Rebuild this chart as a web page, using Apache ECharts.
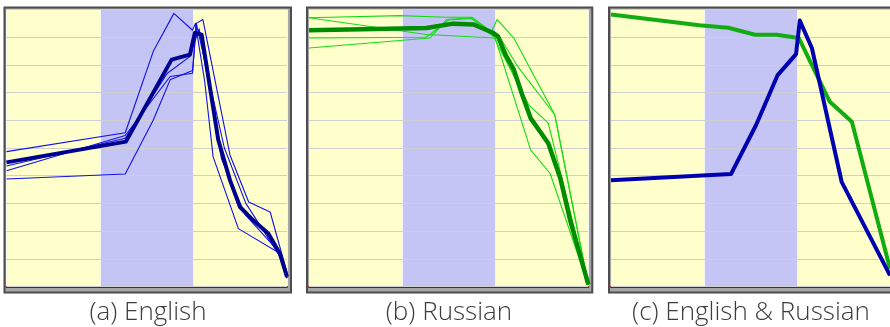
<!DOCTYPE html>
<html><head><meta charset="utf-8">
<script src="https://cdn.jsdelivr.net/npm/echarts@6/dist/echarts.min.js"></script>
<style>html,body{margin:0;padding:0;background:#fff}#c{width:890px;height:327px}</style>
</head><body><div id="c"></div>
<script>
// ---- data (x: 0..3 normalized position, y: 0..10) ----
const panelTitles = ['(a) English', '(b) Russian', '(c) English & Russian'];
const bandColors = ['#FFFFCC', '#C5C5F5'];

const enMean = [[0,4.48],[1.277,5.23],[1.766,8.19],[1.962,8.37],[2.015,9.16],[2.087,9.09],[2.265,5.29],[2.39,3.84],[2.497,2.87],[2.62,2.45],[2.80,1.91],[2.925,1.18],[3.0,0.35]];
const enRun1 = [[0,4.87],[1.27,5.55],[1.57,8.49],[1.79,9.86],[1.99,9.25],[2.02,9.5],[2.12,7.4],[2.21,4.68],[2.48,2.09],[2.93,1.18],[3.0,0.3]];
const enRun2 = [[0,4.18],[1.27,5.45],[1.75,7.58],[1.99,7.7],[2.03,9.5],[2.10,9.64],[2.39,4.75],[2.59,3.05],[2.82,2.69],[3.0,0.5]];
const enRun3 = [[0,3.88],[1.27,4.06],[1.57,6.01],[1.75,7.46],[1.99,7.8],[2.03,9.5],[2.33,5.0],[2.56,3.0],[2.94,1.0],[3.0,0.3]];
const enRun4 = [[0,4.35],[1.27,5.35],[1.72,7.7],[1.96,8.3],[2.06,9.3],[2.30,4.6],[2.55,2.6],[2.9,1.3],[3.0,0.3]];

const ruMean = [[0,9.25],[1.26,9.33],[1.55,9.49],[1.77,9.46],[1.98,9.15],[2.03,9.03],[2.11,8.37],[2.20,7.83],[2.29,6.92],[2.38,6.08],[2.47,5.65],[2.57,5.17],[2.70,3.9],[2.81,2.33],[3.0,0.08]];
const ruRun1 = [[0,9.7],[0.98,9.78],[1.47,9.72],[1.75,9.72],[1.96,9.2],[2.02,9.64],[2.20,8.97],[2.64,6.2],[3.0,0.05]];
const ruRun2 = [[0,9.7],[1.26,9.1],[1.99,8.97],[2.36,6.56],[2.57,5.9],[3.0,0.05]];
const ruRun3 = [[0,8.97],[1.26,9.0],[1.50,9.62],[1.75,9.68],[2.0,8.97],[2.38,4.93],[2.59,4.08],[3.0,0.05]];
const ruRun4 = [[0,8.61],[1.30,8.97],[1.48,9.64],[1.73,9.7],[1.96,9.21],[2.05,9.0],[2.25,7.9],[2.64,6.2],[3.0,0.05]];

const bothEn = [[0,3.84],[1.29,4.06],[1.56,5.83],[1.79,7.62],[1.99,8.39],[2.03,9.60],[2.16,8.61],[2.48,3.78],[3.0,0.4]];
const bothRu = [[0,9.82],[0.95,9.43],[1.26,9.34],[1.55,9.09],[1.78,9.09],[2.02,8.97],[2.35,6.68],[2.59,5.95],[3.0,0.64]];

// ---- layout ----
const grids = [
  {left: 6.5, top: 9.5, width: 280.5, height: 277},
  {left: 309, top: 9.5, width: 279.3, height: 277},
  {left: 611, top: 9.5, width: 280, height: 277}
];
const titleX = [148, 449, 751];

const chart = echarts.init(document.getElementById('c'), null, {renderer: 'canvas'});
const xAxes = [], yAxes = [], series = [], graphics = [];
grids.forEach((g, i) => {
  xAxes.push({gridIndex: i, type: 'value', min: 0, max: 3, interval: 1,
    axisLabel: {show: false}, axisTick: {show: false},
    axisLine: {show: true, onZero: false, lineStyle: {color: '#b00000', width: 2}},
    splitLine: {show: true, lineStyle: {color: '#f4f4f0', width: 1}},
    splitArea: {show: true, areaStyle: {color: [bandColors[0], bandColors[1], bandColors[0]]}}});
  yAxes.push({gridIndex: i, type: 'value', min: 0, max: 10, interval: 1, z: 1,
    axisLabel: {show: false}, axisTick: {show: false}, axisLine: {show: false},
    splitLine: {show: true, lineStyle: {color: '#d0d0d0', width: 1}}});
  graphics.push({type: 'rect', z: -10, silent: true,
    shape: {x: g.left - 2, y: g.top - 2, width: g.width + 6, height: g.height + 8},
    style: {fill: '#a6a6a6', stroke: '#4d4d4d', lineWidth: 2}});
  graphics.push({type: 'text', x: titleX[i], y: 313, silent: true,
    style: {text: panelTitles[i], fontFamily: 'Open Sans', fontWeight: 300, fontSize: 26,
      fill: '#3c3c3c', align: 'center', verticalAlign: 'middle'}});
});
function line(idx, data, color, width, z) {
  series.push({type: 'line', xAxisIndex: idx, yAxisIndex: idx, data: data, showSymbol: false,
    symbol: 'none', silent: true, animation: false, z: z || 2, clip: true,
    lineStyle: {color: color, width: width, join: 'round'}});
}
[enRun1, enRun2, enRun3, enRun4].forEach(d => line(0, d, '#1010ee', 1.1, 2));
line(0, enMean, '#000090', 4, 3);
[ruRun1, ruRun2, ruRun3, ruRun4].forEach(d => line(1, d, '#14dc14', 1.1, 2));
line(1, ruMean, '#008c00', 4.5, 3);
line(2, bothRu, '#12ac12', 4, 2);
line(2, bothEn, '#0000b0', 4, 3);

chart.setOption({
  animation: false,
  grid: grids.map(g => Object.assign({show: false, containLabel: false}, g)),
  xAxis: xAxes, yAxis: yAxes, series: series, graphic: graphics
});
</script></body></html>
